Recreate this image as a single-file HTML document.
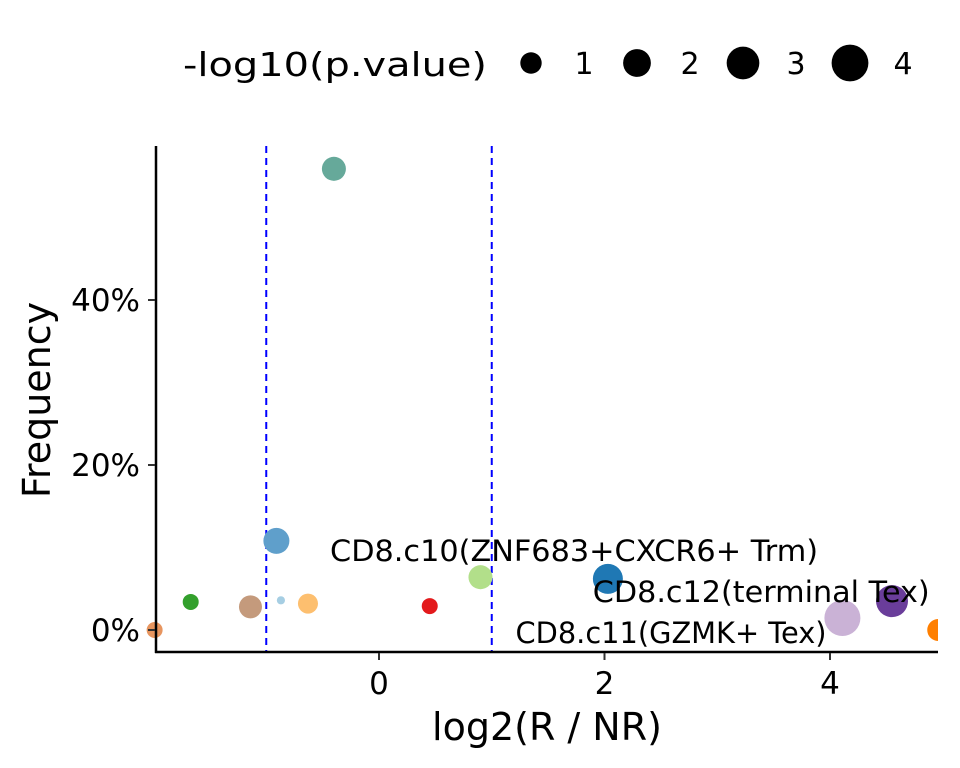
<!DOCTYPE html>
<html><head><meta charset="utf-8"><style>
body{margin:0;background:#fff}
svg{display:block;font-family:"DejaVu Sans","Liberation Sans",sans-serif}
</style></head><body>
<svg id="chart" width="960" height="768" viewBox="0 0 960 768">
<defs><clipPath id="clip"><rect x="0" y="130" width="938" height="522"/></clipPath></defs>
<g id="legend">
<text x="183" y="76" font-size="33" textLength="304" lengthAdjust="spacingAndGlyphs">-log10(p.value)</text>
</g>
<g id="grid"></g>
<g id="marks" clip-path="url(#clip)"></g>
<g id="labels"></g>
<g id="axes"></g>
</svg>
<script>
const names=["c01","c02","c03","c04","c05","c06","c07","c08","c09","c10","c11","c12","c13"];
const xVals=[-1.99,-1.67,-1.14,-0.87,-0.91,-0.63,-0.40,0.45,0.90,2.03,4.11,4.55,4.96];
const yVals=[0.0,3.4,2.8,3.6,10.8,3.2,55.9,2.9,6.4,6.2,1.45,3.5,0.0];
const pVals=[0.42,0.42,1.22,0.02,1.69,0.83,1.37,0.42,1.37,2.43,3.8,2.85,1.08];
const colors=["#e7955f","#33a02c","#c49a7c","#a6cee3","#5f9fcb","#fdbf6f","#66a99a","#e31a1c","#b2df8a","#1f78b4","#cab2d6","#6a3d9a","#ff7f00"];
const xTicks=[0,2,4];
const yTicks=[0,20,40];
const yTickLabels=["0%","20%","40%"];
const legendBreaks=[1,2,3,4];
const vlines=[-1,1];
const annotations=[{t:"CD8.c10(ZNF683+CXCR6+ Trm)",x:1.73,y:8.36,w:488},{t:"CD8.c12(terminal Tex)",x:3.39,y:3.4,w:337},{t:"CD8.c11(GZMK+ Tex)",x:2.59,y:-1.58,w:311}];
const NS="http://www.w3.org/2000/svg";
const sx=v=>379+v*112.75;
const sy=v=>630-v*8.25;
const sr=p=>3+7.7*Math.sqrt(Math.max(p,0));
function mk(tag,attrs,parent){const e=document.createElementNS(NS,tag);for(const k in attrs)e.setAttribute(k,attrs[k]);parent.appendChild(e);return e;}
const marks=document.getElementById('marks'),axes=document.getElementById('axes'),labels=document.getElementById('labels'),legend=document.getElementById('legend'),grid=document.getElementById('grid');
vlines.forEach(v=>{const l=mk('line',{x1:sx(v),x2:sx(v),y1:146,y2:652,stroke:'#0000ff','stroke-width':2,'stroke-dasharray':'7,5'},grid);

});
xVals.forEach((x,i)=>{const c=mk('circle',{cx:sx(x),cy:sy(yVals[i]),r:sr(pVals[i]),fill:colors[i]},marks);

});
annotations.forEach(a=>{const t=mk('text',{x:sx(a.x),y:sy(a.y),'font-size':29,'text-anchor':'middle',textLength:a.w,lengthAdjust:'spacingAndGlyphs'},labels);t.textContent=a.t;

});
let l1=mk('line',{x1:156,x2:156,y1:146,y2:653,stroke:'#000','stroke-width':2.5},axes);


let l2=mk('line',{x1:155,x2:938,y1:652,y2:652,stroke:'#000','stroke-width':2.5},axes);


xTicks.forEach(v=>{mk('line',{x1:sx(v),x2:sx(v),y1:653,y2:660,stroke:'#333','stroke-width':2},axes);
const t=mk('text',{x:sx(v),y:694,'font-size':31,'text-anchor':'middle'},axes);t.textContent=v;

});
yTicks.forEach((v,i)=>{mk('line',{x1:148,x2:155,y1:sy(v),y2:sy(v),stroke:'#333','stroke-width':2},axes);
const t=mk('text',{x:140,y:sy(v)+11,'font-size':31,'text-anchor':'end'},axes);t.textContent=yTickLabels[i];

});
let xt=mk('text',{x:547,y:740,'font-size':38,'text-anchor':'middle'},axes);xt.textContent="log2(R / NR)";


let yt=mk('text',{x:0,y:0,'font-size':38,'text-anchor':'middle',transform:'translate(50,400) rotate(-90)'},axes);yt.textContent="Frequency";


const lx=[531,637,743,850];
legendBreaks.forEach((b,i)=>{const c=mk('circle',{cx:lx[i],cy:63,r:sr(b),fill:'#000'},legend);


const t=mk('text',{x:lx[i]+53,y:74,'font-size':30,'text-anchor':'middle'},legend);t.textContent=b;

});
</script>
</body></html>
